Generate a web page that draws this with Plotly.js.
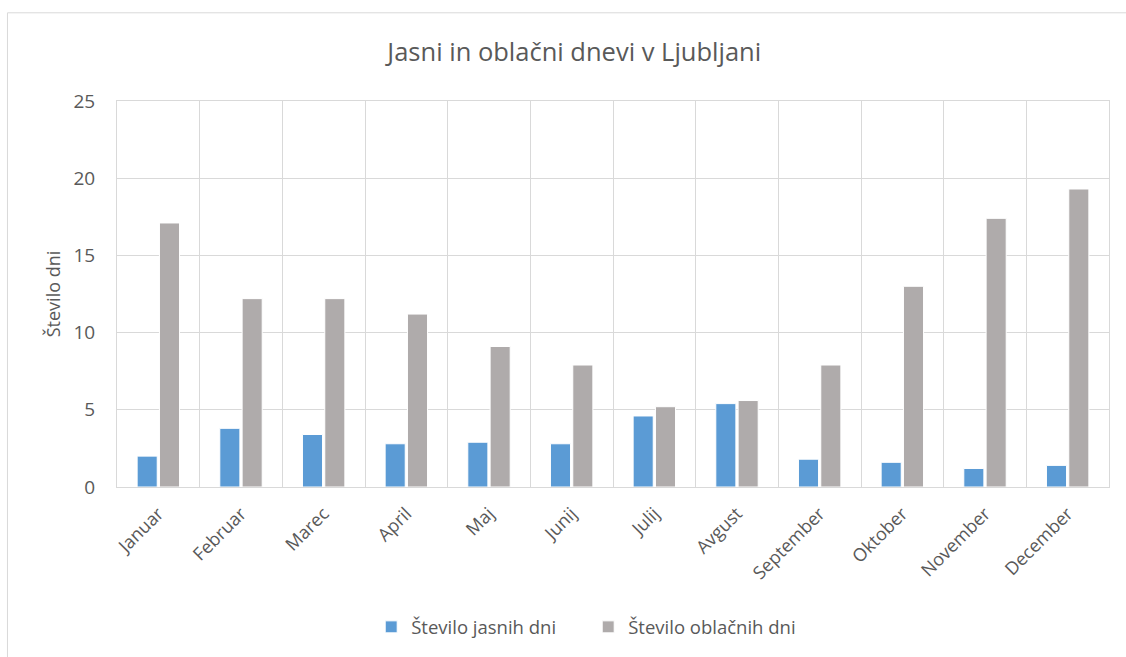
<!DOCTYPE html>
<html>
<head>
<meta charset="utf-8">
<script src="https://cdn.plot.ly/plotly-3.0.1.min.js"></script>
<style>html,body{margin:0;padding:0;background:#fff;}#chart{width:1126px;height:657px;}</style>
</head>
<body>
<div id="chart"></div>
<script>
const months = ["Januar","Februar","Marec","April","Maj","Junij","Julij","Avgust","September","Oktober","November","December"];
const jasni = [2.0, 3.8, 3.4, 2.8, 2.9, 2.8, 4.6, 5.4, 1.8, 1.6, 1.2, 1.4];
const oblacni = [17.1, 12.2, 12.2, 11.2, 9.1, 7.9, 5.2, 5.6, 7.9, 13.0, 17.4, 19.3];
const yTicks = [0, 5, 10, 15, 20, 25];

const FONT = '"Open Sans", "Noto Sans", sans-serif';
const data = [
  {type:'bar', name:'Število jasnih dni', x:months, y:jasni,
   marker:{color:'#5b9bd5', line:{color:'#ffffff', width:1}}},
  {type:'bar', name:'Število oblačnih dni', x:months, y:oblacni,
   marker:{color:'#afabab', line:{color:'#ffffff', width:1}}}
];
const layout = {
  width:1126, height:657,
  margin:{l:117, r:17, t:101, b:169},
  paper_bgcolor:'#ffffff', plot_bgcolor:'#ffffff',
  font:{family:FONT, color:'#595959', size:17},
  title:{text:'Jasni in oblačni dnevi v Ljubljani', x:0.51, xanchor:'center', y:0.92, yanchor:'middle',
         font:{family:FONT, size:25.5, color:'#595959'}},
  barmode:'group', bargap:0.46, bargroupgap:0.1,
  xaxis:{type:'category', tickson:'boundaries', showgrid:true, gridcolor:'#d9d9d9', gridwidth:1,
         showline:true, linecolor:'#d9d9d9', linewidth:1, mirror:true,
         ticks:'', tickangle:-45, ticklabelstandoff:8, tickfont:{family:FONT, size:18, color:'#595959'}, fixedrange:true},
  yaxis:{range:[0,25], tickvals:yTicks, showgrid:true, gridcolor:'#d9d9d9', gridwidth:1,
         showline:true, linecolor:'#d9d9d9', linewidth:1, mirror:true, zeroline:false,
         ticks:'', ticklabelstandoff:17, tickfont:{family:FONT, size:19, color:'#595959'},
         title:{text:'Število dni', standoff:8, font:{family:FONT, size:18, color:'#595959'}}},
  legend:{orientation:'h', x:0.475, xanchor:'center', y:-0.36, yanchor:'middle',
          font:{family:FONT, size:18.5, color:'#595959'}, itemwidth:30, traceorder:'normal',
          entrywidth:172, entrywidthmode:'pixels'},
  shapes:[{type:'rect', xref:'paper', yref:'paper', x0:-0.1104, x1:1.03, y0:-0.45, y1:1.2285,
           line:{color:'#d9d9d9', width:1}, fillcolor:'rgba(0,0,0,0)', layer:'below'}]
};
Plotly.newPlot('chart', data, layout, {displayModeBar:false, staticPlot:true});
</script>
</body>
</html>
